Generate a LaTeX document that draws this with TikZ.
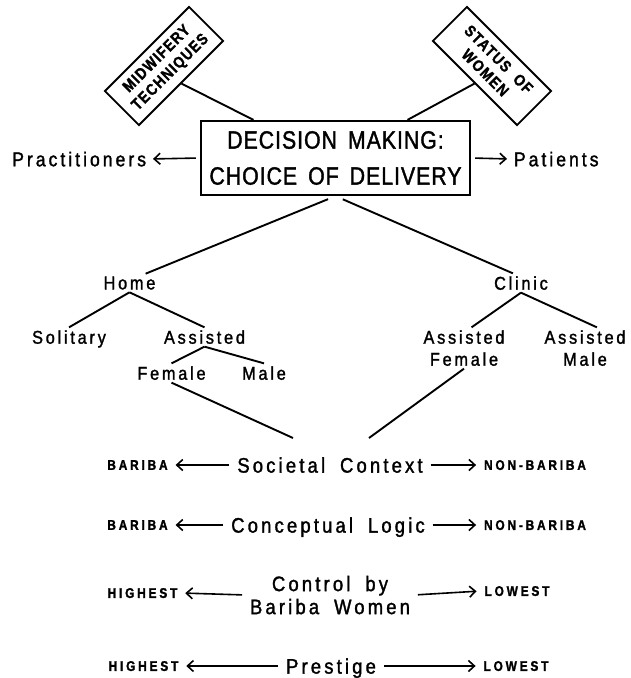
\documentclass[tikz,border=0pt]{standalone}
\usepackage{fontspec}
\setmainfont{Liberation Sans}
\newfontfamily\boxfont[FakeStretch=0.85,FakeBold=1.5,LetterSpace=4,WordSpace=1.6]{Liberation Sans}
\newfontfamily\lblfont[FakeStretch=0.88,FakeBold=1.5,LetterSpace=15,WordSpace=1.8]{Liberation Sans}
\newfontfamily\tagfont[FakeStretch=0.85,FakeBold=1.5,LetterSpace=20,WordSpace=1.6]{Liberation Sans}
\newfontfamily\signfont[FakeStretch=0.85,FakeBold=1.5,LetterSpace=8,WordSpace=2]{Liberation Sans}
\usetikzlibrary{arrows.meta}

\begin{document}
\begin{tikzpicture}[x=1pt,y=-1pt,line width=1.9pt,
  lbl/.style={font=\lblfont\fontsize{18.5}{22}\selectfont,align=center,inner sep=2pt,text depth=0pt},
  row/.style={font=\lblfont\fontsize{21}{23}\selectfont,align=center,inner sep=3pt,text depth=0pt},
  tag/.style={font=\tagfont\bfseries\fontsize{14}{16}\selectfont,inner sep=3pt,text depth=0pt},
  sign/.style={draw,font=\signfont\bfseries\fontsize{16}{19}\selectfont,align=center,minimum width=119pt,minimum height=48pt,inner sep=0pt},
  arr/.style={-{Straight Barb[length=6pt,width=11pt]},line width=1.6pt,shorten <=4pt,shorten >=4pt}]
\useasboundingbox (0,0) rectangle (631,678);
\node[draw,line width=2.2pt,minimum width=269pt,minimum height=74pt,font=\boxfont\fontsize{25}{36}\selectfont,align=center] (box) at (335.5,158) {DECISION MAKING:\\CHOICE OF DELIVERY};
\node[sign,rotate=45] (mid) at (164,66) {MIDWIFERY\\TECHNIQUES};
\node[sign,rotate=-45] (stat) at (492,66) {STATUS OF\\WOMEN};
\node[lbl,font=\lblfont\fontsize{20}{22}\selectfont,anchor=east] (pract) at (149,159) {Practitioners};
\node[lbl,font=\lblfont\fontsize{20}{22}\selectfont,anchor=west] (pat) at (511,159) {Patients};
\draw (mid.south) -- ([xshift=-82pt]box.north);
\draw (stat.south) -- ([xshift=72pt]box.north);
\draw[arr] (box.west) -- (pract.east);
\draw[arr] (box.east) -- (pat.west);
\node[lbl] (home) at (129.5,283) {Home};
\node[lbl] (clinic) at (521,283) {Clinic};
\node[lbl] (soli) at (69,337) {Solitary};
\node[lbl] (asst) at (204.5,337) {Assisted};
\node[lbl] (fem) at (171.5,373) {Female};
\node[lbl] (male) at (264,373) {Male};
\node[lbl] (cfem) at (464,348) {Assisted\\Female};
\node[lbl] (cmale) at (585,348) {Assisted\\Male};
\draw[shorten <=8pt] (box.south) -- (home.30);
\draw[shorten <=8pt] (box.south) -- (clinic.130);
\draw (home.south) -- (soli.north);
\draw (home.south) -- (asst.north);
\draw (asst.south) -- (fem.north);
\draw (asst.south) -- (male.north);
\draw (clinic.south) -- (cfem.70);
\draw (clinic.south) -- (cmale.60);
\coordinate (joinL) at (293,438);
\coordinate (joinR) at (369,438);
\draw (fem.south) -- (joinL);
\draw (cfem.south) -- (joinR);
\node[row] (context) at (330,465) {Societal Context};
\node[tag] (bariba1) at (137.5,465) {BARIBA};
\node[tag] (nonb1) at (535,465) {NON-BARIBA};
\node[row] (logic) at (328,525) {Conceptual Logic};
\node[tag] (bariba2) at (137.5,525) {BARIBA};
\node[tag] (nonb2) at (535,525) {NON-BARIBA};
\node[row] (control) at (330,595) {Control by\\Bariba Women};
\node[tag] (high1) at (142.5,593) {HIGHEST};
\node[tag] (low1) at (517,591) {LOWEST};
\node[row] (prestige) at (331,666) {Prestige};
\node[tag] (high2) at (143.5,666) {HIGHEST};
\node[tag] (low2) at (516,666) {LOWEST};
\draw[arr] (context) -- (bariba1);
\draw[arr] (context) -- (nonb1);
\draw[arr] (logic) -- (bariba2);
\draw[arr] (logic) -- (nonb2);
\draw[arr] (control.west) -- (high1.east);
\draw[arr] (control.east) -- (low1.west);
\draw[arr] (prestige) -- (high2);
\draw[arr] (prestige) -- (low2);
\end{tikzpicture}
\end{document}
